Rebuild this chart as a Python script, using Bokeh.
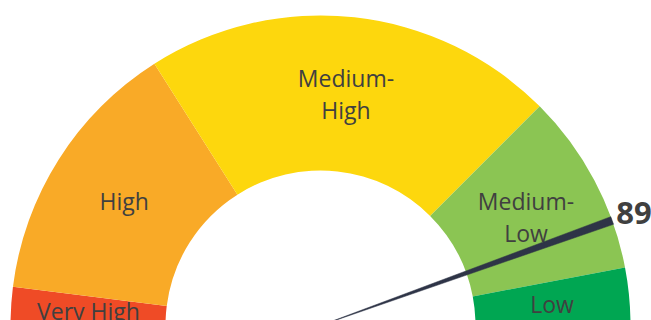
import math
from bokeh.plotting import figure
from bokeh.models import ColumnDataSource
from bokeh.core.properties import value
from bokeh.embed import file_html
from bokeh.resources import INLINE

categories = ["Very High", "High", "Medium-High", "Medium-Low", "Low"]
labels = ["Very High", "High", "Medium-\nHigh", "Medium-\nLow", "Low"]
band_edges = [0, 4, 32, 75, 94, 100]
colors = ["#EF4B26", "#F9AA27", "#FDD70D", "#8BC553", "#00A652"]
needle_value = 89
scale_min, scale_max = 0, 100

def ang(v):
    return math.pi * (1 - (v - scale_min) / (scale_max - scale_min))

R_OUT, R_IN = 310, 155
R_MID = (R_OUT + R_IN) / 2

p = figure(width=651, height=320, x_range=(-320, 331), y_range=(5, 325),
           output_backend="svg", toolbar_location=None, min_border=0)
p.axis.visible = False
p.grid.visible = False
p.outline_line_color = None
p.background_fill_color = "white"
p.border_fill_color = "white"

starts = [ang(b) for b in band_edges[1:]]
ends = [ang(a) for a in band_edges[:-1]]
mids = [(s + e) / 2 for s, e in zip(starts, ends)]
src = ColumnDataSource(dict(cat=categories, lab=labels, start=starts, end=ends, color=colors,
                            lx=[R_MID * math.cos(m) for m in mids],
                            ly=[R_MID * math.sin(m) for m in mids]))

p.annular_wedge(x=0, y=0, inner_radius=R_IN, outer_radius=R_OUT, start_angle="start",
                end_angle="end", direction="anticlock", fill_color="color", line_color=None,
                source=src)

p.text(x="lx", y="ly", text="lab", source=src, text_align="center", text_baseline="middle",
       text_font=value("Open Sans"), text_font_size="23px", text_color="#404040",
       text_line_height=1.0)

na = ang(needle_value)
hw = math.radians(0.75)
p.wedge(x=0, y=0, radius=R_OUT, start_angle=na - hw, end_angle=na + hw, direction="anticlock",
        fill_color="#2E3447", line_color="#2E3447", line_width=0.5)

tipx, tipy = R_OUT * math.cos(na), R_OUT * math.sin(na)
p.text(x=[tipx + 4], y=[tipy + 7], text=[str(needle_value)], text_align="left",
       text_baseline="middle", text_font=value("Open Sans"), text_font_style="bold",
       text_font_size="31px", text_color="#404040")

open("out.html", "w").write(file_html(p, INLINE))
